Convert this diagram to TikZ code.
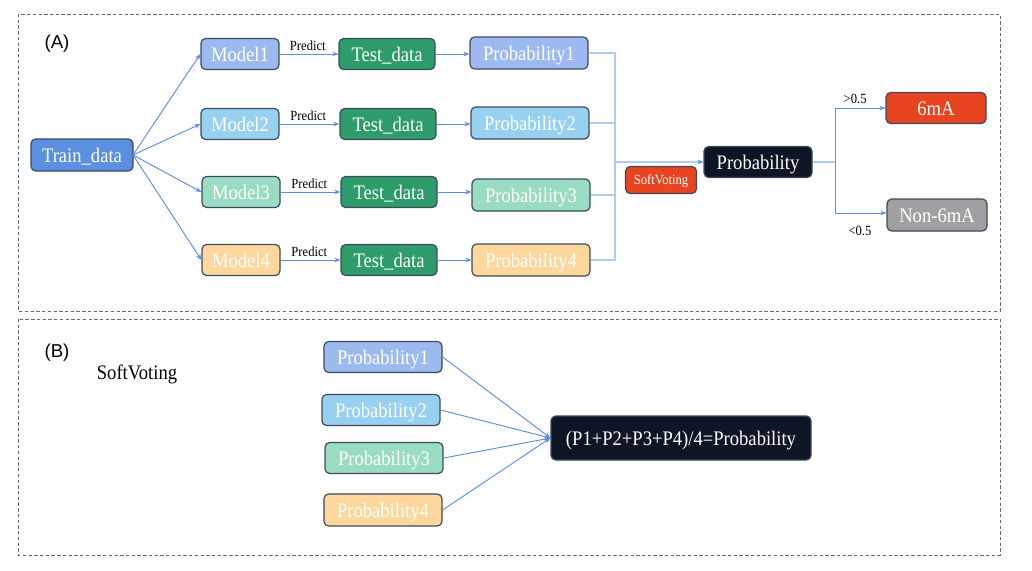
\documentclass[tikz,border=0pt]{standalone}
\usepackage{fontspec}
\setmainfont[FakeStretch=0.9]{Liberation Serif}
\setsansfont{Liberation Sans}
\usetikzlibrary{arrows.meta}
\definecolor{trainc}{HTML}{5B8FE0}
\definecolor{c1}{HTML}{9DBAF0}
\definecolor{c2}{HTML}{98D0F0}
\definecolor{c3}{HTML}{9ADCC2}
\definecolor{c4}{HTML}{FDD79C}
\definecolor{testc}{HTML}{2E9C6A}
\definecolor{darkc}{HTML}{0E1626}
\definecolor{redc}{HTML}{E8441F}
\definecolor{grayc}{HTML}{A0A0A2}
\definecolor{edgec}{HTML}{3C4A5C}
\definecolor{arrowc}{HTML}{5A8EE2}
\definecolor{lightc}{HTML}{AECBF2}
\definecolor{framec}{HTML}{5E6B78}
\tikzset{
  box/.style={draw=edgec, line width=0.9pt, rounded corners=3.5pt, inner sep=0pt,
    text=white, font=\fontsize{15.5}{17}\selectfont, minimum height=23.25pt,
    text height=10.5pt, text depth=0pt},
  arr/.style={draw=arrowc, line width=0.7pt, -{Stealth[length=4.5pt,width=3.5pt]}},
  lite/.style={draw=lightc, line width=0.8pt},
  litearr/.style={draw=lightc, line width=0.8pt, -{Stealth[length=4.5pt,width=3.5pt,color=arrowc]}},
  frame/.style={draw=framec, line width=0.5pt, dash pattern=on 2.5pt off 1.8pt},
  small/.style={font=\fontsize{10.5}{12}\selectfont, text=black, inner sep=1pt},
}
\begin{document}
\begin{tikzpicture}[x=0.75pt,y=-0.75pt]
\useasboundingbox (0,0) rectangle (1032,571);
% frames
\draw[frame] (18,14) rectangle (1000,311);
\draw[frame] (18,319) rectangle (1000,555);
\node[font=\sffamily\fontsize{14}{16}\selectfont, anchor=center] (la) at (57,44) {(A)};
\node[font=\sffamily\fontsize{14}{16}\selectfont, anchor=center] (lb) at (57,353) {(B)};
% panel A
\node[box, fill=trainc, minimum width=76.5pt, minimum height=24pt] (train) at (82,155) {Train\_data};
\node[box, fill=c1, minimum width=58.5pt] (m1) at (240,54) {Model1};
\node[box, fill=c2, minimum width=58.5pt] (m2) at (240,124) {Model2};
\node[box, fill=c3, minimum width=58.5pt] (m3) at (241,192) {Model3};
\node[box, fill=c4, minimum width=58.5pt] (m4) at (241,260) {Model4};
\node[box, fill=testc, minimum width=72pt] (t1) at (387,54) {Test\_data};
\node[box, fill=testc, minimum width=72pt] (t2) at (388,124) {Test\_data};
\node[box, fill=testc, minimum width=72pt] (t3) at (389,192) {Test\_data};
\node[box, fill=testc, minimum width=72pt] (t4) at (389,260) {Test\_data};
\node[box, fill=c1, minimum width=88.5pt, minimum height=24pt] (p1) at (529,53) {Probability1};
\node[box, fill=c2, minimum width=88.5pt, minimum height=24pt] (p2) at (530,123) {Probability2};
\node[box, fill=c3, minimum width=88.5pt, minimum height=24pt] (p3) at (531,195) {Probability3};
\node[box, fill=c4, minimum width=88.5pt, minimum height=24pt] (p4) at (531,260) {Probability4};
\node[box, fill=redc, minimum width=53.25pt, minimum height=20.25pt, font=\fontsize{10.5}{12}\selectfont, text height=7pt] (sv) at (661,180) {SoftVoting};
\node[box, fill=darkc, minimum width=81pt] (prob) at (758,162) {Probability};
\node[box, fill=redc, minimum width=75pt] (pos) at (936,108) {6mA};
\node[box, fill=grayc, minimum width=75pt, minimum height=24pt] (neg) at (937,215) {Non-6mA};
% train -> models
\coordinate (tr) at (133,155);
\foreach \m in {m1,m2,m3,m4} \draw[arr] (tr) -- (\m.west);
% model -> test
\foreach \m/\t in {m1/t1,m2/t2,m3/t3,m4/t4}
  \draw[arr] (\m.east) -- node[small, above=1pt, pos=0.48] {Predict} (\t.west);
% test -> prob
\foreach \t/\p in {t1/p1,t2/p2,t3/p3,t4/p4} \draw[arr] (\t.east) -- (\t.east -| \p.west);
% bracket
\coordinate (j1) at (615,53);
\coordinate (j2) at (615,123);
\coordinate (j3) at (615,195);
\coordinate (j4) at (615,260);
\coordinate (jm) at (615,162);
\draw[lite] (p1.east) -- (j1) -- (j4) -- (p4.east);
\draw[lite] (p2.east) -- (j2);
\draw[lite] (p3.east) -- (j3);
\draw[litearr] (jm) -- (prob.west);
% split
\coordinate (k0) at (835,162);
\coordinate (k1) at (835,108);
\coordinate (k2) at (835,213);
\draw[lite] (prob.east) -- (k0);
\draw[draw=arrowc, line width=0.7pt] (k1) -- (k2);
\draw[arr] (k1) -- node[small, above=2pt, pos=0.4] {>0.5} (pos.west);
\draw[arr] (k2) -- (k2 -| neg.west);
\node[small] (lt) at (860,231) {<0.5};
% panel B
\node[font=\fontsize{15.5}{17}\selectfont] (svb) at (137,374) {SoftVoting};
\node[box, fill=c1, minimum width=88.5pt] (q1) at (383,357) {Probability1};
\node[box, fill=c2, minimum width=88.5pt] (q2) at (381,410) {Probability2};
\node[box, fill=c3, minimum width=88.5pt] (q3) at (384,458) {Probability3};
\node[box, fill=c4, minimum width=88.5pt, minimum height=24pt] (q4) at (383,510) {Probability4};
\node[box, fill=darkc, minimum width=195pt, minimum height=33pt] (form) at (681,438) {(P1+P2+P3+P4)/4=Probability};
\foreach \q in {q1,q2,q3,q4} \draw[arr] (\q.east) -- (form.west);
\end{tikzpicture}
\end{document}
